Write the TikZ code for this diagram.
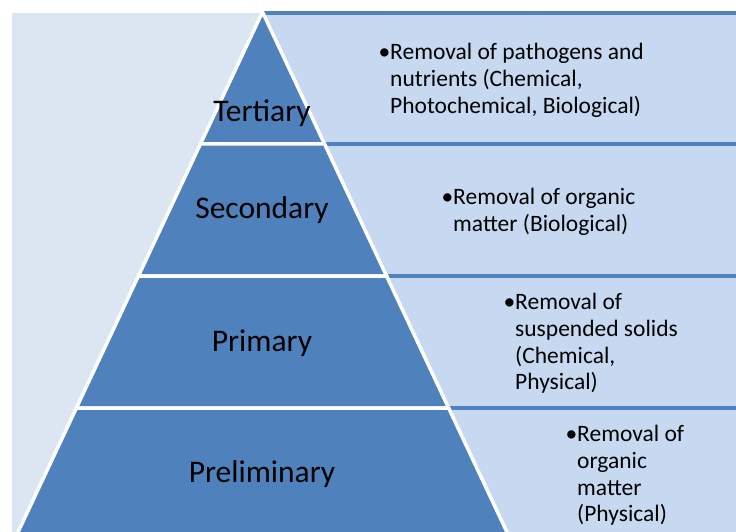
\documentclass[tikz,border=0pt]{standalone}
\usepackage{fontspec}
\setmainfont{Carlito}
\definecolor{bgpale}{HTML}{DCE6F2}
\definecolor{boxpale}{HTML}{C6D9F1}
\definecolor{tierblue}{HTML}{4F81BD}
\begin{document}
\begin{tikzpicture}[x=1pt,y=-1pt,
  tier/.style={fill=tierblue,draw=white,line width=3.5pt,line join=miter},
  infobox/.style={fill=boxpale},
  divider/.style={draw=tierblue,line width=4pt},
  tierlabel/.style={font=\fontsize{31.5}{36}\selectfont,text=black,inner sep=0pt,anchor=base},
  info/.style={font=\fontsize{23.5}{26.7}\selectfont,align=left,anchor=north west,inner sep=0pt,text=black}]
\useasboundingbox (0,0) rectangle (736,532);
\clip (0,0) rectangle (736,532);
% background panel
\fill[bgpale] (12,13) rectangle (760,560);
% right-hand boxes
\fill[infobox] (262.5,13) rectangle (760,560);
\draw[divider] (262.5,13.5) -- (760,13.5);
\draw[divider] (262.5,144) -- (760,144);
\draw[divider] (262.5,276) -- (760,276);
\draw[divider] (262.5,408) -- (760,408);
% pyramid tiers
\path[tier] (262.5,12) -- (324.54,144) -- (200.46,144) -- cycle;
\path[tier] (200.46,144) -- (324.54,144) -- (386.58,276) -- (138.42,276) -- cycle;
\path[tier] (138.42,276) -- (386.58,276) -- (448.62,408) -- (76.38,408) -- cycle;
\path[tier] (76.38,408) -- (448.62,408) -- (510.66,540) -- (14.34,540) -- cycle;
% tier labels
\node[tierlabel] (tert) at (262,122) {Tertiary};
\node[tierlabel] (sec) at (262,218) {Secondary};
\node[tierlabel] (prim) at (262,351) {Primary};
\node[tierlabel] (prel) at (262,482) {Preliminary};
% descriptions
\node[info] (d1) at (390,43.3) {\llap{\textbullet}Removal of pathogens and\\nutrients (Chemical,\\Photochemical, Biological)};
\node[info] (d2) at (453,188.3) {\llap{\textbullet}Removal of organic\\matter (Biological)};
\node[info] (d3) at (515,293.3) {\llap{\textbullet}Removal of\\suspended solids\\(Chemical,\\Physical)};
\node[info] (d4) at (577,425.3) {\llap{\textbullet}Removal of\\organic\\matter\\(Physical)};
\end{tikzpicture}
\end{document}
